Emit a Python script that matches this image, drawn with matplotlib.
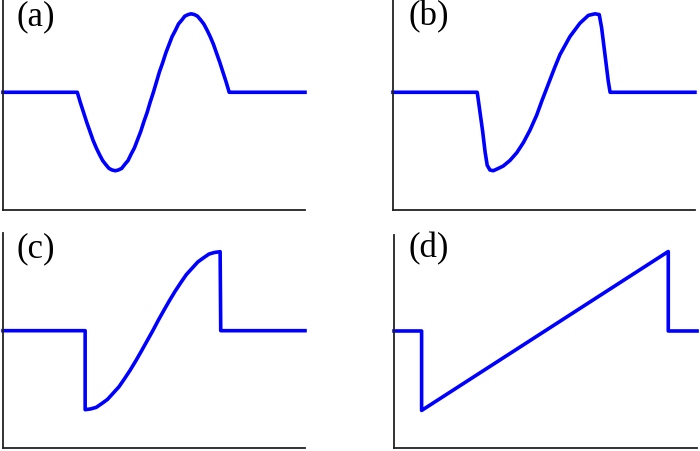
import matplotlib
matplotlib.use("Agg")
import matplotlib.pyplot as plt

# Waveforms: time 0..100, amplitude -1..1 (baseline 0)
t_a = [0, 24.6, 25.6, 26.7, 27.7, 28.8, 29.8, 30.9, 31.9, 33.0, 34.0, 35.1, 36.1,
       37.2, 38.2, 39.3, 40.3, 41.4, 42.4, 43.5, 44.5, 45.6, 46.6, 47.7, 48.7,
       49.8, 50.8, 51.8, 52.9, 53.9, 55.0, 56.0, 57.1, 58.1, 59.2, 60.2, 61.3,
       62.3, 63.4, 64.4, 65.5, 66.5, 67.6, 68.6, 69.7, 70.7, 71.8, 72.8, 73.9, 74.9, 100]
y_a = [0, 0, -0.13, -0.26, -0.38, -0.50, -0.61, -0.71, -0.79, -0.87, -0.92, -0.97, -0.99,
       -1.0, -0.99, -0.97, -0.92, -0.87, -0.79, -0.71, -0.61, -0.50, -0.38, -0.26, -0.13,
       0, 0.13, 0.26, 0.38, 0.50, 0.61, 0.71, 0.79, 0.87, 0.92, 0.97, 0.99,
       1.0, 0.99, 0.97, 0.92, 0.87, 0.79, 0.71, 0.61, 0.50, 0.38, 0.26, 0.13, 0, 0]

t_b = [0, 27.9, 28.8, 29.7, 30.5, 31.2, 32.1, 33.2, 34.9, 36.5, 38.7, 41.0, 43.2,
       45.4, 47.6, 49.3, 51.3, 53.6, 55.3, 58.6, 61.9, 64.7, 66.9, 68.3, 69.1,
       70.2, 71.3, 71.9, 100]
y_b = [0, 0, -0.25, -0.50, -0.76, -0.93, -0.99, -1.0, -0.97, -0.94, -0.87, -0.77, -0.64,
       -0.48, -0.29, -0.11, 0.09, 0.32, 0.48, 0.71, 0.88, 0.98, 1.0, 0.99, 0.82,
       0.48, 0.14, 0, 0]

t_c = [0, 27.2, 27.2, 29.1, 30.9, 32.8, 34.6, 36.5, 38.4, 40.2, 42.1, 44.0, 45.8,
       47.7, 49.6, 51.4, 53.3, 55.1, 57.0, 58.9, 60.7, 62.6, 64.5, 66.3, 68.2,
       70.0, 71.9, 72.1, 100]
y_c = [0, 0, -1.0, -0.99, -0.97, -0.92, -0.87, -0.79, -0.71, -0.61, -0.50, -0.38, -0.26,
       -0.13, 0, 0.13, 0.26, 0.38, 0.50, 0.61, 0.71, 0.79, 0.87, 0.92, 0.97,
       0.99, 1.0, 0, 0]

t_d = [0, 9.1, 9.1, 90.5, 90.5, 100]
y_d = [0, 0, -1.0, 1.0, 0, 0]

labels = ["(a)", "(b)", "(c)", "(d)"]

fig = plt.figure(figsize=(7, 4.51), dpi=100)

panels = [
    # rect, ylim, data, label position (px)
    ([0.0043, 0.5344, 0.4314, 0.4656], (-1.50, 1.176), t_a, y_a, (16, 25)),
    ([0.5614, 0.5344, 0.4314, 0.4656], (-1.50, 1.176), t_b, y_b, (409, 25)),
    ([0.0043, 0.0067, 0.4314, 0.4767], (-1.485, 1.237), t_c, y_c, (16, 257)),
    ([0.5629, 0.0067, 0.4329, 0.4723], (-1.472, 1.208), t_d, y_d, (409, 257)),
]

for (rect, ylim, t, y, pos), lab in zip(panels, labels):
    ax = fig.add_axes(rect)
    ax.plot(t, y, color="#0000ff", lw=2.6, solid_joinstyle="round", clip_on=False)
    ax.set_xlim(0, 100)
    ax.set_ylim(*ylim)
    for s in ["top", "right"]:
        ax.spines[s].set_visible(False)
    for s in ["left", "bottom"]:
        ax.spines[s].set_linewidth(1.3)
        ax.spines[s].set_color("#222222")
    ax.set_xticks([])
    ax.set_yticks([])
    ax.patch.set_alpha(0)
    fig.text(pos[0] / 700, 1 - pos[1] / 451, lab, fontsize=25,
             family="Liberation Serif", va="baseline", ha="left")

fig.savefig("out.png", dpi=100)
